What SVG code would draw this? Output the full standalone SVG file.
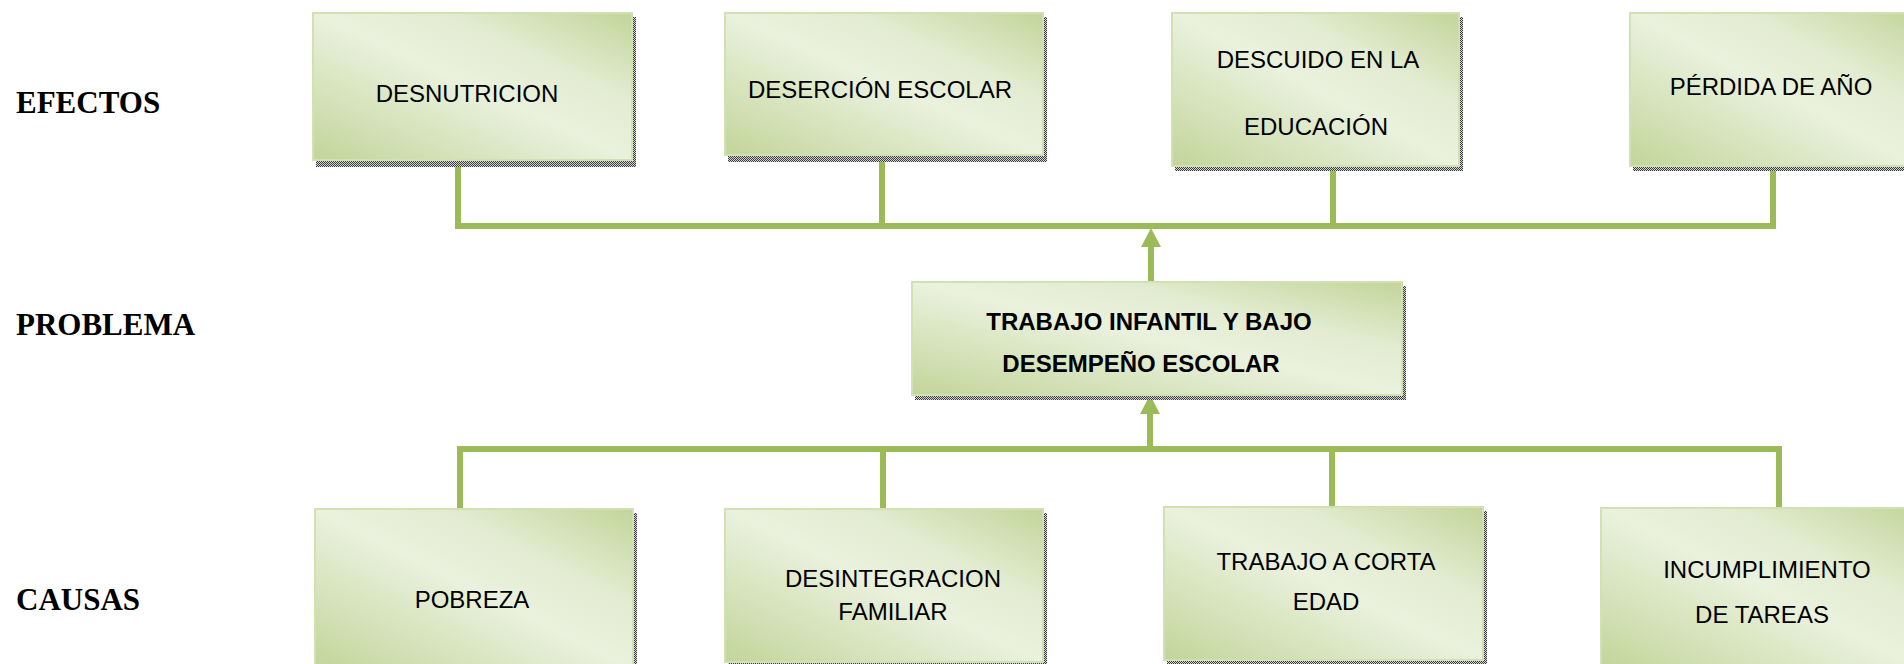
<svg xmlns="http://www.w3.org/2000/svg" width="1904" height="664" viewBox="0 0 1904 664">
<defs>
<linearGradient id="g" x1="0" y1="1" x2="1" y2="0">
<stop offset="0" stop-color="#c2d59a"/>
<stop offset="0.5" stop-color="#eaf1dd"/>
<stop offset="0.7" stop-color="#e3ecd1"/>
<stop offset="1" stop-color="#c2d59a"/>
</linearGradient>
<pattern id="dots" width="2" height="2" patternUnits="userSpaceOnUse">
<rect width="2" height="2" fill="#d4d4d4"/>
<rect width="1" height="1" fill="#3c3c3c"/>
<rect x="1" y="1" width="1" height="1" fill="#3c3c3c"/>
</pattern>
</defs>
<style>
.shadow{fill:url(#dots)}
.box{fill:url(#g);stroke:#d2e1b3;stroke-width:2}
.t{font-family:"Liberation Sans",Arial,sans-serif;font-size:24px;fill:#000;text-anchor:middle}
.tb{font-family:"Liberation Sans",Arial,sans-serif;font-size:24px;font-weight:bold;fill:#000;text-anchor:middle}
.lbl{font-family:"Liberation Serif","Times New Roman",serif;font-size:31px;font-weight:bold;fill:#000}
.c{stroke:#9bbb59;stroke-width:6;fill:none}
.head{fill:#9bbb59}
</style>
<rect width="1904" height="664" fill="#fff"/>

<g id="labels">
<text class="lbl" x="16" y="113">EFECTOS</text>
<text class="lbl" x="16" y="335">PROBLEMA</text>
<text class="lbl" x="16" y="610">CAUSAS</text>
</g>

<g id="connectors">
<path class="c" d="M458 160V226M882 155V226M1333 166V226M1773 166V229M455 226H1776"/>
<path class="c" d="M1151 282V246"/>
<polygon class="head" points="1151,228 1141,247 1161,247"/>
<path class="c" d="M460 512V449M883 512V449M1332 510V449M1779 511V446M457 449H1782"/>
<path class="c" d="M1150 449V412"/>
<polygon class="head" points="1150,395 1140,414 1160,414"/>
</g>

<g id="e1">
<rect class="shadow" x="316" y="17" width="320" height="150"/>
<rect class="box" x="313" y="13" width="319" height="147"/>
<text class="t" x="467" y="102">DESNUTRICION</text>
</g>
<g id="e2">
<rect class="shadow" x="728" y="17" width="319" height="145"/>
<rect class="box" x="725" y="13" width="318" height="142"/>
<text class="t" x="880" y="98">DESERCIÓN ESCOLAR</text>
</g>
<g id="e3">
<rect class="shadow" x="1175" y="17" width="288" height="154"/>
<rect class="box" x="1172" y="13" width="287" height="153"/>
<text class="t" x="1318" y="68">DESCUIDO EN LA</text>
<text class="t" x="1316" y="135">EDUCACIÓN</text>
</g>
<g id="e4">
<rect class="shadow" x="1633" y="17" width="290" height="154"/>
<rect class="box" x="1630" y="13" width="290" height="153"/>
<text class="t" x="1771" y="95">PÉRDIDA DE AÑO</text>
</g>

<g id="problem">
<rect class="shadow" x="915" y="286" width="491" height="114"/>
<rect class="box" x="912" y="282" width="490" height="113"/>
<text class="tb" x="1149" y="330">TRABAJO INFANTIL Y BAJO</text>
<text class="tb" x="1141" y="372">DESEMPEÑO ESCOLAR</text>
</g>

<g id="c1">
<rect class="shadow" x="318" y="513" width="319" height="160"/>
<rect class="box" x="315" y="509" width="318" height="160"/>
<text class="t" x="472" y="608">POBREZA</text>
</g>
<g id="c2">
<rect class="shadow" x="728" y="513" width="319" height="154"/>
<rect class="box" x="725" y="509" width="318" height="153"/>
<text class="t" x="893" y="587">DESINTEGRACION</text>
<text class="t" x="893" y="620">FAMILIAR</text>
</g>
<g id="c3">
<rect class="shadow" x="1167" y="511" width="320" height="154"/>
<rect class="box" x="1164" y="507" width="319" height="153"/>
<text class="t" x="1326" y="570">TRABAJO A CORTA</text>
<text class="t" x="1326" y="610">EDAD</text>
</g>
<g id="c4">
<rect class="shadow" x="1604" y="512" width="320" height="160"/>
<rect class="box" x="1601" y="508" width="320" height="160"/>
<text class="t" x="1767" y="578">INCUMPLIMIENTO</text>
<text class="t" x="1762" y="623">DE TAREAS</text>
</g>
</svg>
